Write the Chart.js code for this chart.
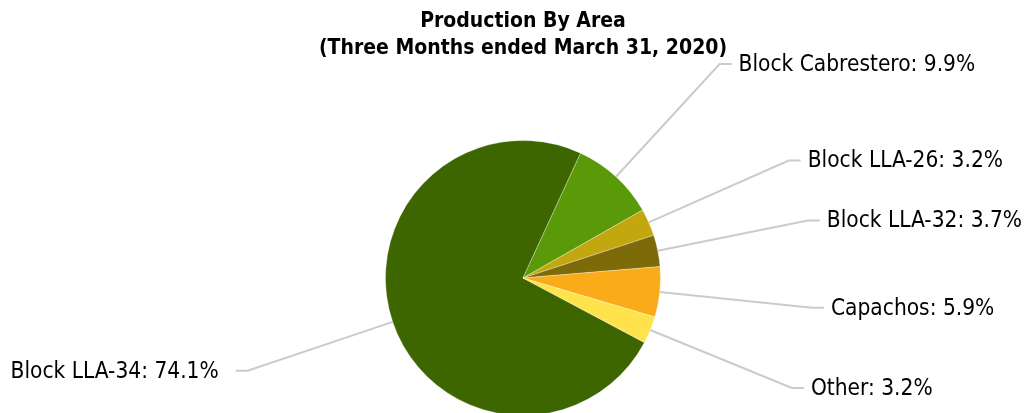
<!DOCTYPE html>
<html>
<head>
<meta charset="utf-8">
<script src="https://cdn.jsdelivr.net/npm/chart.js@4/dist/chart.umd.min.js"></script>
<style>
  html, body { margin: 0; padding: 0; background: #fff; overflow: hidden; }
</style>
</head>
<body>
<canvas id="myChart" width="1026" height="420"></canvas>
<script>
// areas, going clockwise from the big slice
var areas = ['Block LLA-34', 'Block Cabrestero', 'Block LLA-26', 'Block LLA-32', 'Capachos', 'Other'];
var shares = [74.1, 9.9, 3.2, 3.7, 5.9, 3.2];
var colours = ['#3d6600', '#5a9a08', '#c2a80e', '#7d6a08', '#faab1a', '#ffe34d'];

var ctx = document.getElementById('myChart');

// draws "name: x%" outside each slice with a bent grey leader line
const outsideLabels = {
  id: 'outsideLabels',
  afterDraw(chart) {
    const c = chart.ctx;
    const meta = chart.getDatasetMeta(0);
    c.save();
    c.font = '22.5px "DejaVu Sans Condensed"';
    c.fillStyle = '#000';
    c.textBaseline = 'middle';
    meta.data.forEach(function (arc, i) {
      const p = arc.getProps(['x', 'y', 'startAngle', 'endAngle', 'outerRadius'], true);
      const mid = (p.startAngle + p.endAngle) / 2;
      const cos = Math.cos(mid), sin = Math.sin(mid);
      const x0 = p.x + cos * p.outerRadius, y0 = p.y + sin * p.outerRadius;
      const x1 = p.x + cos * (p.outerRadius + 153), y1 = p.y + sin * (p.outerRadius + 153);
      const side = cos >= 0 ? 1 : -1;
      const x2 = x1 + side * 12;
      c.strokeStyle = '#cbcbcb';
      c.lineWidth = 2;
      c.beginPath();
      c.moveTo(x0, y0);
      c.lineTo(x1, y1);
      c.lineTo(x2, y1);
      c.stroke();
      c.textAlign = side > 0 ? 'left' : 'right';
      const txt = areas[i] + ': ' + shares[i].toFixed(1) + '%';
      c.fillText(txt, x2 + (side > 0 ? 7 : -17), y1 + 1);
    });
    c.restore();
  }
};

const datachart = {
  labels: areas,
  datasets: [{
    data: shares,
    backgroundColor: colours,
    borderColor: 'rgba(255,255,255,0.3)',
    borderWidth: 1,
    hoverOffset: 0
  }]
};

const config = {
  type: 'pie',
  data: datachart,
  options: {
    responsive: false,
    animation: false,
    events: [],
    rotation: 118,
    layout: { padding: { left: 20, right: 0, top: 0, bottom: 4 } },
    plugins: {
      legend: { display: false },
      tooltip: { enabled: false },
      title: {
        display: true,
        text: ['Production By Area', '(Three Months ended March 31, 2020)'],
        color: '#000',
        font: { family: '"DejaVu Sans Condensed"', size: 21, weight: 'bold', lineHeight: 1.286 },
        padding: { top: 8, bottom: 78 }
      }
    }
  },
  plugins: [outsideLabels]
};
const myChart = new Chart(ctx, config);
</script>
</body>
</html>
